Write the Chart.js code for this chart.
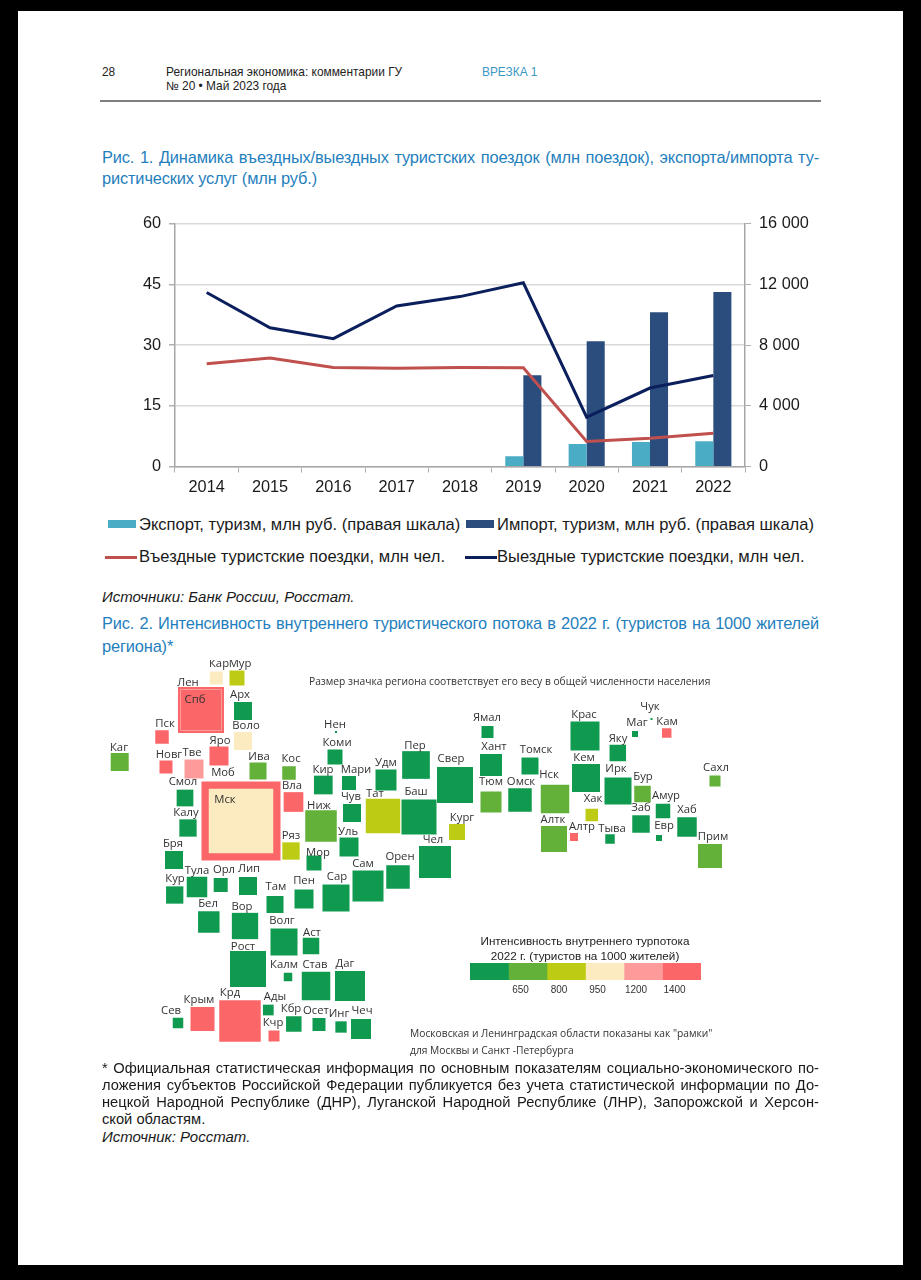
<!DOCTYPE html>
<html lang="ru">
<head>
<meta charset="utf-8">
<title>Региональная экономика</title>
<script src="https://cdn.jsdelivr.net/npm/chart.js@4"></script>
<style>
  html, body { margin: 0; padding: 0; background: #000; }
  body { width: 921px; height: 1280px; position: relative; overflow: hidden; font-family: "Liberation Sans", Arial, sans-serif; }
  #page { position: absolute; left: 18px; top: 11px; width: 885px; height: 1254px; background: #fff; }
  .t { position: absolute; white-space: nowrap; color: #222; line-height: 1; transform: translateY(-50%); }
  .just { text-align: justify; text-align-last: justify; white-space: normal; }
  .blue { color: #1f80bd; font-size: 16.4px; letter-spacing: -0.15px; }
  .note { font-size: 14.7px; color: #1a1a1a; }
  .leg { font-size: 16.55px; color: #1a1a1a; }
  .map { font-family: "Open Sans", "Noto Sans", sans-serif; font-size: 10.25px; color: #333; }
  .swatch { position: absolute; height: 8px; width: 28px; }
  .key { position: absolute; height: 3px; width: 32px; }
  canvas { position: absolute; }
</style>
</head>
<body>
<div id="page"></div>

<div class="t" style="left:102px;top:73px;font-size:11.9px">28</div>
<div class="t" style="left:166px;top:73px;font-size:11.9px">Региональная экономика: комментарии ГУ</div>
<div class="t" style="left:166px;top:87px;font-size:11.9px">№ 20 • Май 2023 года</div>
<div class="t" style="left:482px;top:73px;font-size:11.9px;color:#3a97c4">ВРЕЗКА 1</div>
<div style="position:absolute;left:100px;top:100px;width:721px;height:1.5px;background:#7f7f7f"></div>

<div class="t just blue" style="left:102px;top:157px;width:717px">Рис. 1. Динамика въездных/выездных туристских поездок (млн поездок), экспорта/импорта ту-</div>
<div class="t blue" style="left:102px;top:178px">ристических услуг (млн руб.)</div>

<canvas id="tripsChart" width="700" height="299" style="left:130px;top:206px"></canvas>

<div class="swatch" style="left:108px;top:520px;background:#4bacc6"></div>
<div class="t leg" style="left:139px;top:525px">Экспорт, туризм, млн руб. (правая шкала)</div>
<div class="swatch" style="left:466px;top:520px;background:#2b4d7e"></div>
<div class="t leg" style="left:497px;top:525px">Импорт, туризм, млн руб. (правая шкала)</div>
<div class="key" style="left:105px;top:556px;background:#c0504d"></div>
<div class="t leg" style="left:139px;top:557px">Въездные туристские поездки, млн чел.</div>
<div class="key" style="left:465px;top:556px;background:#0a1f5c"></div>
<div class="t leg" style="left:497px;top:557px">Выездные туристские поездки, млн чел.</div>

<div class="t note" style="left:102px;top:596px;font-style:italic;font-size:15px">Источники: Банк России, Росстат.</div>
<div class="t just blue" style="left:102px;top:623px;width:717px">Рис. 2. Интенсивность внутреннего туристического потока в 2022 г. (туристов на 1000 жителей</div>
<div class="t blue" style="left:102px;top:646px">региона)*</div>

<canvas id="tileMap" width="640" height="400" style="left:100px;top:660px"></canvas>

<div class="t map" style="left:309px;top:681px">Размер значка региона соответствует его весу в общей численности населения</div>
<div class="t" style="left:585px;top:941px;font-size:11.7px;transform:translate(-50%,-50%)">Интенсивность внутреннего турпотока</div>
<div class="t" style="left:585px;top:956px;font-size:11.7px;transform:translate(-50%,-50%)">2022 г. (туристов на 1000 жителей)</div>
<canvas id="binScale" width="231" height="34" style="left:470px;top:963px"></canvas>
<div class="t map" style="left:410px;top:1033px">Московская и Ленинградская области показаны как "рамки"</div>
<div class="t map" style="left:410px;top:1050px">для Москвы и Санкт -Петербурга</div>

<div class="t just note" style="left:102px;top:1068px;width:717px">* Официальная статистическая информация по основным показателям социально-экономического по-</div>
<div class="t just note" style="left:102px;top:1085px;width:717px">ложения субъектов Российской Федерации публикуется без учета статистической информации по До-</div>
<div class="t just note" style="left:102px;top:1102px;width:717px">нецкой Народной Республике (ДНР), Луганской Народной Республике (ЛНР), Запорожской и Херсон-</div>
<div class="t note" style="left:102px;top:1119px">ской областям.</div>
<div class="t note" style="left:102px;top:1136px;font-style:italic;font-size:15px">Источник: Росстат.</div>

<script>
// Рис. 1
const years = ['2014', '2015', '2016', '2017', '2018', '2019', '2020', '2021', '2022'];
const exportRub = [null, null, null, null, null, 680, 1490, 1620, 1660];
const importRub = [null, null, null, null, null, 6010, 8260, 10160, 11500];
const inboundTrips = [25.4, 26.8, 24.5, 24.3, 24.5, 24.4, 6.2, 7.0, 8.2];
const outboundTrips = [43.0, 34.3, 31.6, 39.7, 42.0, 45.4, 12.2, 19.4, 22.5];
const leftTicks = [0, 15, 30, 45, 60];
const rightTicks = [0, 4000, 8000, 12000, 16000];
const rightTickLabels = ['0', '4 000', '8 000', '12 000', '16 000'];

// Рис. 2
const tileNames = ['Моб', 'Мск', 'Лен', 'Спб', 'Кар', 'Мур', 'Арх', 'Пск', 'Воло', 'Яро', 'Каг', 'Новг', 'Тве', 'Ива', 'Кос', 'Смол', 'Вла', 'Калу', 'Ряз', 'Бря', 'Кур', 'Тула', 'Орл', 'Лип', 'Там', 'Пен', 'Сар', 'Сам', 'Бел', 'Вор', 'Волг', 'Аст', 'Рост', 'Калм', 'Став', 'Даг', 'Крд', 'Крым', 'Ады', 'Кбр', 'Осет', 'Инг', 'Чеч', 'Сев', 'Кчр', 'Нен', 'Коми', 'Кир', 'Мари', 'Удм', 'Пер', 'Свер', 'Чув', 'Тат', 'Баш', 'Ниж', 'Уль', 'Мор', 'Кург', 'Чел', 'Орен', 'Ямал', 'Хант', 'Тюм', 'Омск', 'Томск', 'Нск', 'Крас', 'Кем', 'Ирк', 'Яку', 'Маг', 'Чук', 'Кам', 'Сахл', 'Бур', 'Амур', 'Заб', 'Хаб', 'Евр', 'Хак', 'Алтк', 'Алтр', 'Тыва', 'Прим'];
const tileX = [241, 241, 201, 201, 216.3, 237, 243, 162, 243, 219, 119.7, 166, 194, 258, 289, 185, 293.5, 188, 291, 174, 174.7, 197, 220.7, 248, 275, 304, 336, 368, 208.8, 245, 284, 311, 248, 288, 316, 350, 240, 202.5, 268.3, 293.8, 319, 341, 361, 178, 274, 336, 335, 323.3, 349, 386, 416, 455, 352, 383, 419, 321, 349, 314, 457, 435, 398, 487.5, 491, 491, 520, 530, 555, 585, 586, 618, 617.8, 635, 651.5, 666.7, 715, 642.5, 663, 641, 687, 659, 591.8, 554, 574, 610, 710];
const tileY = [821, 821, 710, 710, 678, 678, 711, 737, 741, 756, 762, 767, 769, 771, 773, 798, 802, 828, 851, 860, 895, 887, 885, 886, 904.5, 899, 898, 886, 922, 926, 942, 946, 969, 977, 986, 986, 1021, 1019, 1010, 1024, 1024.5, 1027, 1029, 1023, 1036, 732, 757, 785, 783, 780, 765, 785, 813, 816, 817, 826, 847, 863, 832, 862, 877, 732, 765, 802, 800, 766, 799, 736, 778, 791, 753, 734, 719, 733, 781, 794, 811, 824, 827, 838, 815, 839, 837, 839, 856];
const tileSide = [79, 64.5, 46, 41, 13, 15, 18, 13.5, 18, 19, 18, 13, 19, 17, 13.5, 16.7, 19.7, 17.3, 17.3, 18, 17.3, 20.5, 14, 18, 17, 19, 27, 31, 21.5, 26.3, 27, 16.5, 36, 8.5, 28.5, 30, 41.5, 24, 10.7, 15.5, 13, 11.3, 20, 10.5, 11, 2, 15, 18.7, 14, 21, 27.7, 36, 18, 34.5, 35, 31.5, 19, 15, 16, 32, 23.5, 12, 22, 21, 23.5, 17, 28.5, 29, 28, 27, 16.5, 6, 2, 9.5, 11, 16.5, 14.5, 17.5, 19.5, 6, 12.5, 26, 8, 9.5, 24];
const tileBin = [5, 3, 5, 5, 3, 2, 0, 5, 3, 5, 1, 5, 4, 1, 1, 0, 5, 0, 2, 0, 0, 0, 0, 0, 0, 0, 0, 0, 0, 0, 0, 0, 0, 0, 0, 0, 5, 5, 0, 0, 0, 0, 0, 0, 5, 0, 0, 0, 0, 0, 0, 0, 0, 2, 0, 1, 0, 0, 2, 0, 0, 0, 0, 1, 0, 0, 1, 0, 0, 0, 0, 0, 0, 5, 1, 1, 0, 0, 0, 0, 2, 1, 5, 0, 1];
const labelX = [223, 225, 188, 195, 219, 240, 240, 165, 246, 220, 119, 169, 192, 259, 291, 183, 292, 186, 291, 173, 175, 197, 224, 249, 276, 304, 337, 363, 208, 242, 282, 312, 243, 284, 315, 345, 230, 199, 275, 291, 316, 339, 362, 171, 273, 335, 337, 323, 356, 386, 415, 451, 351, 375, 416, 319, 348, 318, 462, 433, 400, 487, 494, 491, 521, 536, 549, 584, 584, 616, 618, 637, 650, 667, 716, 643, 666, 641, 687, 664, 593, 553, 582, 612, 713];
const labelY = [773, 800, 683, 700, 664, 664, 695, 724, 726, 741, 748, 755, 753, 757, 759, 782, 786, 813, 836, 844, 879, 871, 870, 869, 887, 881, 877, 864, 904, 907, 921, 933, 947, 965, 965, 964, 993, 1000, 997, 1009, 1011, 1014, 1011, 1011, 1023, 725, 743, 770, 770, 763, 746, 759, 797, 794, 792, 806, 832, 853, 818, 840, 857, 718, 747, 782, 782, 750, 775, 715, 758, 769, 739, 723, 707, 722, 768, 777, 796, 808, 810, 826, 799, 820, 827, 829, 837];

const binColors = ['#0f9a4f', '#63b139', '#bdcb14', '#fcebc0', '#fd9b9b', '#fb6668'];
const binTicks = [1, 2, 3, 4, 5];
const binLabels = ['650', '800', '950', '1200', '1400'];

new Chart(document.getElementById('tripsChart'), {
  type: 'bar',
  data: {
    labels: years,
    datasets: [
      { label: 'Экспорт', data: exportRub, backgroundColor: '#4bacc6', yAxisID: 'yRight', order: 2 },
      { label: 'Импорт', data: importRub, backgroundColor: '#2b4d7e', yAxisID: 'yRight', order: 2 },
      { type: 'line', label: 'Въездные', data: inboundTrips, borderColor: '#c0504d', borderWidth: 3, pointRadius: 0, tension: 0, yAxisID: 'yLeft', order: 1 },
      { type: 'line', label: 'Выездные', data: outboundTrips, borderColor: '#0a1f5c', borderWidth: 3, pointRadius: 0, tension: 0, yAxisID: 'yLeft', order: 0 }
    ]
  },
  options: {
    responsive: false,
    animation: false,
    layout: { padding: { top: 8 } },
    datasets: { bar: { categoryPercentage: 0.57, barPercentage: 1 } },
    plugins: { legend: { display: false }, tooltip: { enabled: false } },
    scales: {
      x: {
        offset: true,
        afterFit: s => { s.height = 38.5; },
        grid: { offset: true, drawOnChartArea: false, tickLength: 6, tickColor: '#b0b0b0' },
        border: { color: '#a6a6a6', width: 1.5 },
        ticks: { font: { family: 'Liberation Sans', size: 16.3 }, color: '#1a1a1a', padding: 5, maxRotation: 0 }
      },
      yLeft: {
        position: 'left',
        min: 0, max: 60,
        afterFit: s => { s.width = 45; },
        afterBuildTicks: s => { s.ticks = leftTicks.map(v => ({ value: v })); },
        grid: { color: '#d9d9d9', lineWidth: 1.5, tickLength: 6, tickColor: '#b0b0b0' },
        border: { color: '#a6a6a6', width: 1.5 },
        ticks: { font: { family: 'Liberation Sans', size: 16.3 }, color: '#1a1a1a', padding: 8 }
      },
      yRight: {
        position: 'right',
        min: 0, max: 16000,
        afterFit: s => { s.width = 85; },
        afterBuildTicks: s => { s.ticks = rightTicks.map(v => ({ value: v })); },
        grid: { drawOnChartArea: false, tickLength: 6, tickColor: '#b0b0b0' },
        border: { color: '#a6a6a6', width: 1.5 },
        ticks: {
          font: { family: 'Liberation Sans', size: 16.3 }, color: '#1a1a1a', padding: 8,
          callback: v => rightTickLabels[rightTicks.indexOf(v)]
        }
      }
    }
  }
});

// подписи регионов рядом со значками
const tileLabels = {
  id: 'tileLabels',
  afterDatasetsDraw(chart) {
    const { ctx, scales } = chart;
    ctx.save();
    ctx.font = '11.3px "Open Sans"';
    ctx.fillStyle = '#333';
    ctx.textAlign = 'center';
    ctx.textBaseline = 'middle';
    tileNames.forEach((name, i) => {
      ctx.fillText(name, scales.x.getPixelForValue(labelX[i]), scales.y.getPixelForValue(labelY[i]));
    });
    ctx.restore();
  }
};

new Chart(document.getElementById('tileMap'), {
  type: 'bubble',
  data: {
    datasets: [{
      data: tileNames.map((name, i) => ({ x: tileX[i], y: tileY[i], r: tileSide[i] / Math.SQRT2 })),
      pointStyle: 'rect',
      backgroundColor: ctx => binColors[tileBin[ctx.dataIndex]],
      borderColor: ctx => tileNames[ctx.dataIndex] === 'Спб' ? binColors[4] : binColors[tileBin[ctx.dataIndex]],
      borderWidth: ctx => tileNames[ctx.dataIndex] === 'Спб' ? 1 : 0
    }]
  },
  options: {
    responsive: false,
    animation: false,
    events: [],
    layout: { autoPadding: false },
    plugins: { legend: { display: false }, tooltip: { enabled: false } },
    scales: {
      x: { type: 'linear', display: false, min: 100, max: 740 },
      y: { type: 'linear', display: false, min: 660, max: 1060, reverse: true }
    }
  },
  plugins: [tileLabels]
});

new Chart(document.getElementById('binScale'), {
  type: 'bar',
  data: {
    labels: [''],
    datasets: binColors.map(c => ({ data: [1], backgroundColor: c, stack: 'bins' }))
  },
  options: {
    indexAxis: 'y',
    responsive: false,
    animation: false,
    events: [],
    datasets: { bar: { categoryPercentage: 1, barPercentage: 1 } },
    plugins: { legend: { display: false }, tooltip: { enabled: false } },
    scales: {
      x: {
        type: 'linear', stacked: true, min: 0, max: 6,
        afterFit: s => { s.height = 17; },
        afterBuildTicks: s => { s.ticks = binTicks.map(v => ({ value: v })); },
        grid: { display: false, drawTicks: false },
        border: { display: false },
        ticks: {
          font: { family: 'Liberation Sans', size: 10 }, color: '#333', padding: 4, labelOffset: 12, maxRotation: 0,
          callback: v => binLabels[binTicks.indexOf(v)]
        }
      },
      y: { stacked: true, display: false }
    }
  }
});
</script>
</body>
</html>
